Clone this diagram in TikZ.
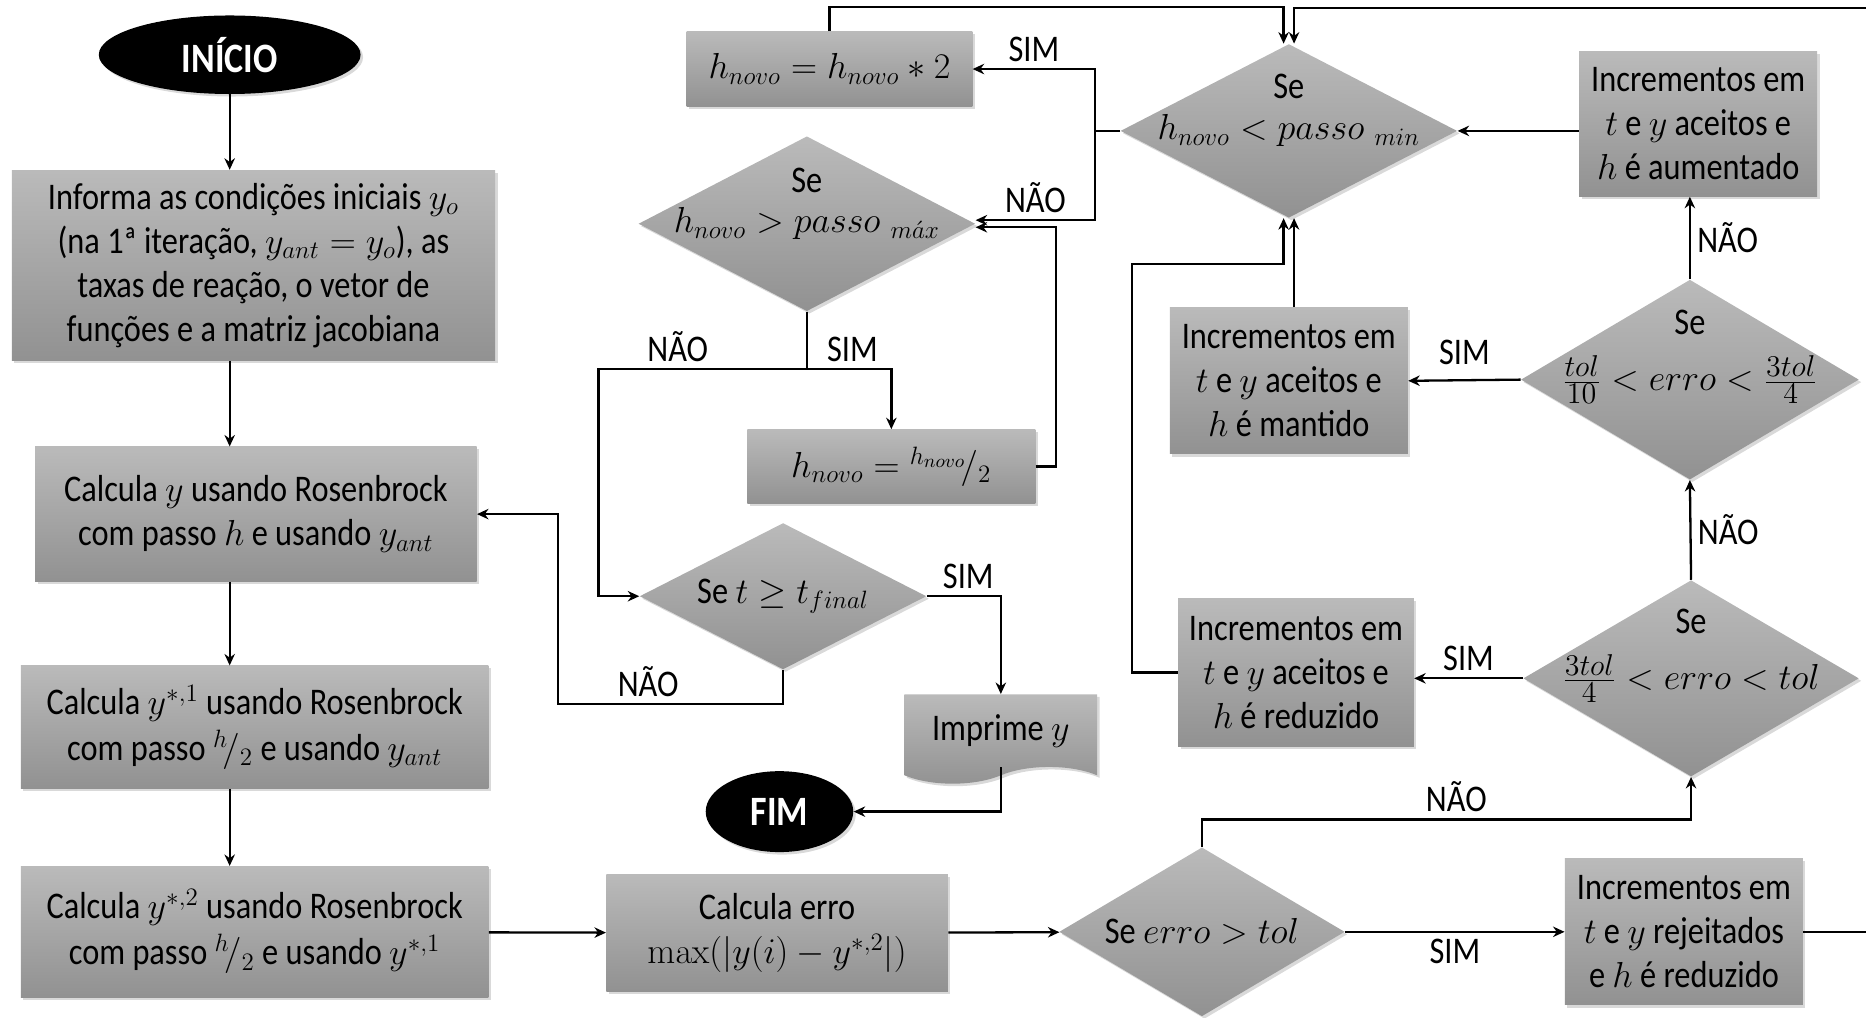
\documentclass[tikz,border=0pt]{standalone}
\usepackage[no-math]{fontspec}
\setmainfont{Carlito}[FakeStretch=0.86]
\usepackage{tikz}
\usetikzlibrary{shapes.geometric, shapes.symbols, arrows.meta, positioning, shadows, calc}
\usepackage{xcolor}
\tikzset{
    >=Stealth,
    % Colors
    boxGray/.style={top color=black!27, bottom color=black!43, draw=none},
    boxShadow/.style={drop shadow={opacity=0.3, shadow xshift=1.2pt, shadow yshift=-1.2pt}},
    % Shapes
    comp/.style={rectangle, align=center, inner sep=2pt, boxGray, boxShadow},
    decision/.style={diamond, aspect=2, align=center, inner xsep=-0.6cm, inner ysep=-0.25cm, boxGray, boxShadow},
    terminal/.style={ellipse, fill=black, text=white, font=\bfseries\fontsize{20}{22}\selectfont, boxShadow},
    docShape/.style={tape, tape bend top=none, tape bend bottom=in and out, tape bend height=8pt,
                     align=center, boxGray, boxShadow},
    seText/.style={label={[yshift=#1]center:Se}},
    % Flow & Labels
    flow/.style={-{Stealth[length=5.5pt, width=5pt]}, line width=1.1pt, black},
    lbl/.style={inner sep=3pt, text=black}
}
\newcommand{\mfrac}[2]{\frac{\mbox{\fontsize{15}{15}\selectfont$#1$}}{\mbox{\fontsize{15}{15}\selectfont$#2$}}}

\begin{document}
\begin{tikzpicture}[x=0.02cm, y=-0.02cm, font=\fontsize{18}{21}\selectfont]

\useasboundingbox (0,0) rectangle (1568,855);

% left column
\node[terminal, minimum width=4.4cm, minimum height=1.32cm] (inicio) at (193,46) {INÍCIO};
\node[comp, minimum width=8.12cm, minimum height=3.2cm] (informa) at (213,223)
    {Informa as condições iniciais $y_o$\\(na 1ª iteração, $y_{ant}=y_o$), as\\taxas de reação, o vetor de\\funções e a matriz jacobiana};
\node[comp, minimum width=7.42cm, minimum height=2.26cm] (calcY) at (215,432)
    {Calcula $y$ usando Rosenbrock\\com passo $h$ e usando $y_{ant}$};
\node[comp, minimum width=7.86cm, minimum height=2.06cm] (calcYa) at (214,611)
    {Calcula $y^{*,1}$ usando Rosenbrock\\[1pt]com passo ${}^{h}\!/_{2}$ e usando $y_{ant}$};
\node[comp, minimum width=7.86cm, minimum height=2.2cm] (calcYb) at (214,783)
    {Calcula $y^{*,2}$ usando Rosenbrock\\[1pt]com passo ${}^{h}\!/_{2}$ e usando $y^{*,1}$};

% bottom row
\node[comp, minimum width=5.74cm, minimum height=1.96cm] (erro) at (653,784)
    {Calcula erro\\$\max(|y(i)-y^{*,2}|)$};
\node[decision, minimum width=4.8cm, minimum height=2.84cm] (seErro) at (1010,783) {Se $erro>tol$};
\node[comp, minimum width=4.0cm, minimum height=2.46cm] (rejeita) at (1415,783)
    {Incrementos em\\$t$ e $y$ rejeitados\\e $h$ é reduzido};

% right column
\node[decision, seText=0.96cm, minimum width=5.64cm, minimum height=3.3cm] (seTres) at (1421,570)
    {$\mfrac{3tol}{4}<erro<tol$};
\node[comp, minimum width=3.96cm, minimum height=2.48cm] (aceRed) at (1089,565)
    {Incrementos em\\$t$ e $y$ aceitos e\\$h$ é reduzido};
\node[decision, seText=0.96cm, minimum width=5.68cm, minimum height=3.36cm] (seTol) at (1420,319)
    {$\mfrac{tol}{10}<erro<\mfrac{3tol}{4}$};
\node[comp, minimum width=4.0cm, minimum height=2.46cm] (aceMan) at (1083,320)
    {Incrementos em\\$t$ e $y$ aceitos e\\$h$ é mantido};
\node[comp, minimum width=4.0cm, minimum height=2.44cm] (aceAum) at (1427,104)
    {Incrementos em\\$t$ e $y$ aceitos e\\$h$ é aumentado};
\node[decision, seText=0.74cm, minimum width=5.66cm, minimum height=2.92cm] (sePmin) at (1083,110)
    {$h_{novo}<passo\;{}_{min}$};

% middle column
\node[comp, minimum width=4.8cm, minimum height=1.26cm] (hDobra) at (697,58) {$h_{novo}=h_{novo}*2$};
\node[decision, seText=0.72cm, minimum width=5.66cm, minimum height=2.94cm] (sePmax) at (678,188)
    {$h_{novo}>passo\;{}_{m\acute{a}x}$};
\node[comp, minimum width=4.84cm, minimum height=1.24cm] (hMetade) at (749,392)
    {$h_{novo}={}^{h_{novo}}\!/_{2}$};
\node[decision, minimum width=4.82cm, minimum height=2.46cm] (seFim) at (658,501) {Se $t\geq t_{final}$};
\node[docShape, minimum width=3.24cm, minimum height=1.5cm] (imprime) at (841,614) {Imprime $y$};
\node[terminal, minimum width=2.48cm, minimum height=1.36cm] (fim) at (655,682) {FIM};

% main column
\draw[flow] (inicio) -- (inicio |- informa.north);
\draw[flow] (inicio |- informa.south) -- (inicio |- calcY.north);
\draw[flow] (inicio |- calcY.south) -- (inicio |- calcYa.north);
\draw[flow] (inicio |- calcYa.south) -- (inicio |- calcYb.north);
\draw[flow] (calcYb) -- (erro);
\draw[flow] (erro) -- (seErro);
\draw[flow] (seErro) -- node[lbl, below] {SIM} (rejeita);

% error bands
\draw[flow] (seErro.north) -- ++(0,-23) -| node[lbl, pos=0.26, above] {NÃO} (seTres.south);
\draw[flow] (seTres.west) -- node[lbl, above] {SIM} (seTres.west -| aceRed.east);
\draw[flow] (seTres.north) -- node[lbl, right] {NÃO} (seTol.south);
\draw[flow] (seTol.west) -- node[lbl, above=4pt] {SIM} (aceMan.east);
\draw[flow] (seTol.north) -- node[lbl, right] {NÃO} (seTol.north |- aceAum.south);
\draw[flow] (aceAum.west |- sePmin) -- (sePmin.east);

% back to passo min
\draw[flow] ([xshift=2.5pt]aceMan.north) -- ([xshift=2.5pt]sePmin.south);
\draw[flow] (aceRed.west) -| (951,222) -| ([xshift=-2.5pt]sePmin.south);
\draw[flow] (rejeita.east) -| (1580,7) -| ([xshift=2.5pt]sePmin.north);
\draw[flow] (hDobra.north) -- ++(0,-20) -| ([xshift=-2.5pt]sePmin.north);

% step size checks
\draw[flow] (sePmin.west) -- ++(-21,0) |- node[lbl, pos=0.75, above] {SIM} (hDobra.east);
\draw[flow] (sePmin.west) -- ++(-21,0) |- node[lbl, pos=0.75, above] {NÃO} ([yshift=1.7pt]sePmax.east);
\draw[flow] (sePmax.south) -- ++(0,48) -| node[lbl, pos=0.27, above] {SIM} (hMetade.north);
\draw[flow] (sePmax.south) -- ++(0,48) -- node[lbl, pos=0.62, above] {NÃO} ++(-175,0) |- (seFim.west);
\draw[flow] (hMetade.east) -- ++(17,0) |- ([yshift=-1.7pt]sePmax.east);

% end test
\draw[flow] (seFim.east) -| node[lbl, pos=0.28, above] {SIM} (imprime.north);
\draw[flow] (seFim.south) -- ++(0,29) -- node[lbl, pos=0.6, above] {NÃO} ++(-189,0) |- (calcY.east);
\draw[flow] (imprime.south) |- (fim.east);

\end{tikzpicture}
\end{document}
